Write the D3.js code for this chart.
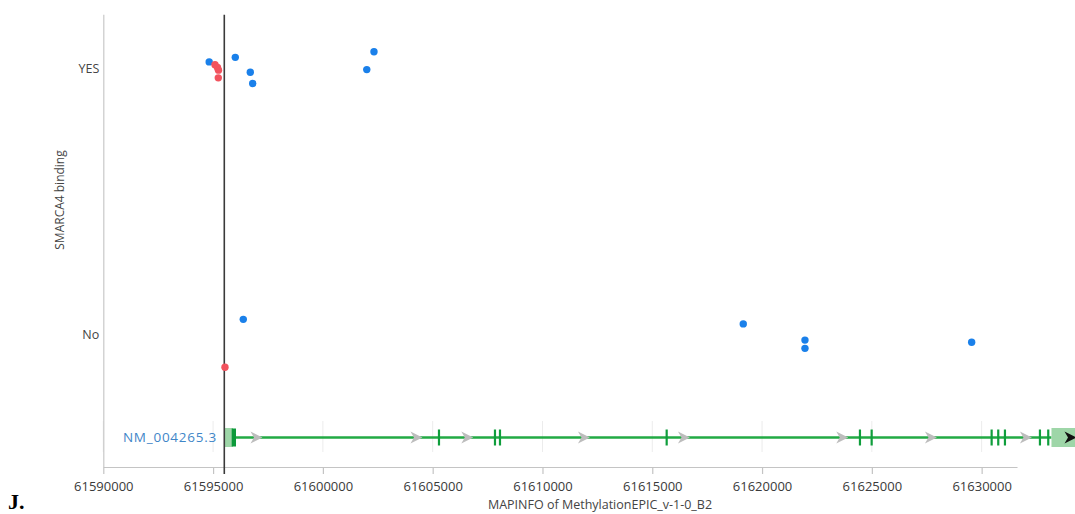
<!DOCTYPE html>
<html>
<head>
<meta charset="utf-8">
<script src="https://cdn.jsdelivr.net/npm/d3@7"></script>
<style>
  html, body { margin: 0; padding: 0; background: #fff; }
  svg { display: block; }
  text { font-family: "Segoe UI", "Open Sans", sans-serif; }
</style>
</head>
<body>
<svg id="chart" width="1075" height="514"></svg>
<script>
// Genomic position (MAPINFO) of each probe
const positions = [
  61594822, 61596011, 61596694, 61596803, 61601999, 61602327,
  61595086, 61595200, 61595246, 61595237,
  61596375, 61619144, 61621954, 61621954, 61629545,
  61595542
];
// SMARCA4 binding call per probe (1 = YES, 0 = No)
const binding = [1, 1, 1, 1, 1, 1, 1, 1, 1, 1, 0, 0, 0, 0, 0, 0];
// Vertical jitter of each point within its category band
const jitter = [
  0.023, 0.040, -0.016, -0.058, -0.006, 0.061,
  0.012, 0.002, -0.008, -0.037,
  0.055, 0.038, -0.023, -0.054, -0.031,
  -0.125
];
// Colour group per probe
const group = ["b","b","b","b","b","b","r","r","r","r","b","b","b","b","b","r"];

const categories = ["No", "YES"];
const xTicks = [61590000, 61595000, 61600000, 61605000, 61610000, 61615000, 61620000, 61625000, 61630000];
const xDomain = [61590000, 61631610];
const marker = 61595510;

// Gene model NM_004265.3
const geneName = "NM_004265.3";
const geneStart = 61595500;
const utr5 = [61595500, 61595905];
const firstExon = [61595847, 61596043];
const exons = [61605287, 61607837, 61608065, 61615656, 61624458, 61624991,
               61630455, 61630756, 61631061, 61632655, 61633033];
const strandArrows = [61596976, 61604262, 61606576, 61611890, 61616444,
                      61623652, 61627691, 61632017];
const utr3 = [61633180, 61635500];
const utr3Arrow = 61633500;

const svg = d3.select("#chart");
const plotLeft = 103.3, plotRight = 1017, plotTop = 14.8, plotBottom = 467;

const x = d3.scaleLinear().domain(xDomain).range([plotLeft, plotRight]);
const y = d3.scaleLinear().domain([-0.5, 1.2]).range([plotBottom, plotTop]);
const color = d3.scaleOrdinal().domain(["b", "r"]).range(["#1a80ea", "#f2535e"]);

// Gene track faint grid
const trackY = 437.5;
const grid = svg.append("g");
grid.selectAll("line").data(xTicks).join("line")
  .attr("x1", d => x(d)).attr("x2", d => x(d))
  .attr("y1", 421).attr("y2", 452)
  .attr("stroke", "#ececec").attr("stroke-width", 1);

// Left axis line
svg.append("line")
  .attr("x1", plotLeft + 0.5).attr("x2", plotLeft + 0.5)
  .attr("y1", plotTop).attr("y2", plotBottom)
  .attr("stroke", "#c9c9c9").attr("stroke-width", 1.2);

// Bottom axis
const xAxis = d3.axisBottom(x)
  .tickValues(xTicks)
  .tickFormat(d3.format("d"))
  .tickSize(7)
  .tickSizeOuter(0)
  .tickPadding(8);
const gx = svg.append("g").attr("transform", `translate(0,${plotBottom})`).call(xAxis);
gx.select(".domain").attr("stroke", "#c4c4c4").attr("stroke-width", 1.2);
gx.selectAll(".tick line").attr("stroke", "#c4c4c4").attr("stroke-width", 1.2);
gx.selectAll(".tick text")
  .attr("fill", "#3a3a3a")
  .style("font-size", "13px")
  .style("font-family", '"Segoe UI", "Open Sans", sans-serif');

// Category labels
const yAxis = d3.axisLeft(y)
  .tickValues([0, 1])
  .tickFormat(d => categories[d])
  .tickSize(0)
  .tickPadding(4);
const gy = svg.append("g").attr("transform", `translate(${plotLeft},0)`).call(yAxis);
gy.select(".domain").remove();
gy.selectAll(".tick text")
  .attr("fill", "#444")
  .style("font-size", "12.5px")
  .style("font-family", '"Segoe UI", "Open Sans", sans-serif');

// Axis titles
svg.append("text")
  .attr("transform", "translate(64,200) rotate(-90)")
  .attr("text-anchor", "middle")
  .attr("fill", "#444")
  .style("font-size", "12px")
  .text("SMARCA4 binding");

svg.append("text")
  .attr("x", 600).attr("y", 509)
  .attr("text-anchor", "middle")
  .attr("fill", "#444")
  .style("font-size", "12.5px")
  .text("MAPINFO of MethylationEPIC_v-1-0_B2");

// Panel letter
svg.append("text")
  .attr("x", 8).attr("y", 509)
  .style("font-family", '"Liberation Serif", "Times New Roman", serif')
  .style("font-weight", "bold")
  .style("font-size", "22px")
  .attr("fill", "#000")
  .text("J.");

// Gene track
const gene = svg.append("g");
gene.append("text")
  .attr("x", 217).attr("y", trackY)
  .attr("dy", "0.35em")
  .attr("text-anchor", "end")
  .attr("fill", "#3f86c8")
  .style("font-size", "13.5px")
  .style("letter-spacing", "0.75px")
  .text(geneName);

gene.append("line")
  .attr("x1", x(geneStart)).attr("x2", x(utr3[0]))
  .attr("y1", trackY).attr("y2", trackY)
  .attr("stroke", "#22aa44").attr("stroke-width", 2.6);

gene.append("rect")
  .attr("x", x(utr5[0])).attr("width", x(utr5[1]) - x(utr5[0]))
  .attr("y", trackY - 9.5).attr("height", 19)
  .attr("fill", "#9ed6a8");

gene.append("rect")
  .attr("x", x(firstExon[0])).attr("width", x(firstExon[1]) - x(firstExon[0]))
  .attr("y", trackY - 9).attr("height", 18)
  .attr("fill", "#0c9a3a");

gene.append("rect")
  .attr("x", x(utr3[0])).attr("width", x(utr3[1]) - x(utr3[0]))
  .attr("y", trackY - 9.5).attr("height", 19)
  .attr("fill", "#9ed6a8");

const chevron = "M-6,-6 L6,0 L-6,6 L-2.5,0 Z";
gene.selectAll("path.strand").data(strandArrows).join("path")
  .attr("class", "strand")
  .attr("d", chevron)
  .attr("transform", d => `translate(${x(d)},${trackY})`)
  .attr("fill", "#bdbdbd");

gene.append("path")
  .attr("d", chevron)
  .attr("transform", `translate(${x(utr3Arrow) + 12},${trackY})`)
  .attr("fill", "#111");

gene.selectAll("line.exon").data(exons).join("line")
  .attr("class", "exon")
  .attr("x1", d => x(d)).attr("x2", d => x(d))
  .attr("y1", trackY - 8).attr("y2", trackY + 8)
  .attr("stroke", "#0f9e3c").attr("stroke-width", 2.2);

// Reference marker line
svg.append("line")
  .attr("x1", x(marker)).attr("x2", x(marker))
  .attr("y1", plotTop).attr("y2", plotBottom + 7)
  .attr("stroke", "#3a3a3a").attr("stroke-width", 1.6);

// Probe points
const pts = positions.map((p, i) => ({ p, b: binding[i], j: jitter[i], g: group[i] }));
svg.append("g").selectAll("circle").data(pts).join("circle")
  .attr("cx", d => x(d.p))
  .attr("cy", d => y(d.b + d.j))
  .attr("r", 3.7)
  .attr("fill", d => color(d.g));
</script>
</body>
</html>
